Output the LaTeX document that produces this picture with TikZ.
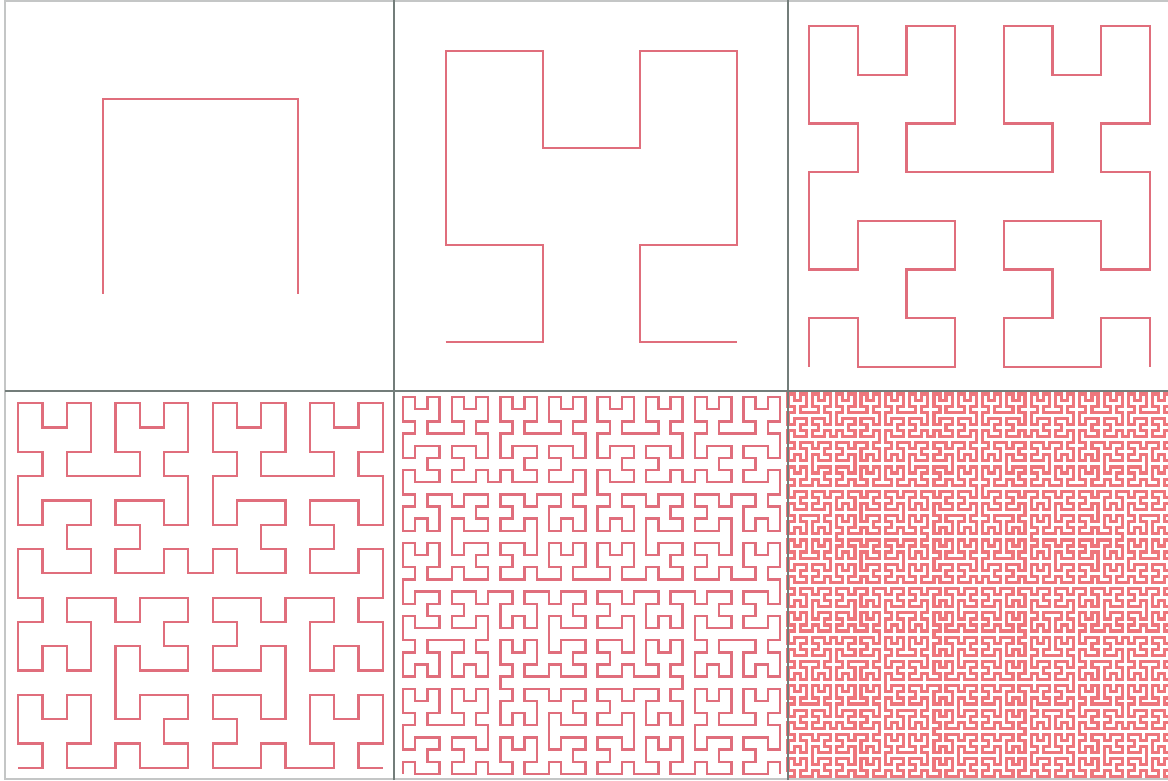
\documentclass[tikz,border=0pt]{standalone}
\usetikzlibrary{lindenmayersystems}
\pgfdeclarelindenmayersystem{Hilbert}{
  \rule{L -> +RF-LFL-FR+}
  \rule{R -> -LF+RFR+FL-}
}
\definecolor{curvecol}{RGB}{224,110,124}
\definecolor{densecol}{RGB}{238,118,124}
\definecolor{dividercol}{RGB}{115,125,122}
\definecolor{framecol}{RGB}{196,198,198}
\begin{document}
\begin{tikzpicture}[x=1pt,y=1pt,
  hil/.style={curvecol, line width=2.2pt, line join=miter},
  hildense/.style={densecol, line width=3.2pt, line join=miter},
  divider/.style={dividercol, line width=1.6pt},
  outerframe/.style={framecol, line width=1.6pt}]
\useasboundingbox (0,0) rectangle (1168,780);
\fill[white] (0,0) rectangle (1168,780);
% row 1
\begin{scope}[shift={(103.25,486.25)}]
\draw[hil, lindenmayer system={Hilbert, axiom=L, order=1, step=194.5pt, angle=90}] lindenmayer system;
\end{scope}
\begin{scope}[shift={(445.625,437.625)}]
\draw[hil, lindenmayer system={Hilbert, axiom=L, order=2, step=97.25pt, angle=90}] lindenmayer system;
\end{scope}
\begin{scope}[shift={(809.3125,413.3125)}]
\draw[hil, lindenmayer system={Hilbert, axiom=L, order=3, step=48.625pt, angle=90}] lindenmayer system;
\end{scope}
% row 2
\begin{scope}[shift={(18.15625,12.15625)}]
\draw[hil, lindenmayer system={Hilbert, axiom=L, order=4, step=24.3125pt, angle=90}] lindenmayer system;
\end{scope}
\begin{scope}[shift={(403.078,6.078)}]
\draw[hil, line width=2.4pt, lindenmayer system={Hilbert, axiom=L, order=5, step=12.15625pt, angle=90}] lindenmayer system;
\end{scope}
\begin{scope}[shift={(788.04,3.04)}]
\draw[hildense, lindenmayer system={Hilbert, axiom=L, order=6, step=6.078125pt, angle=90}] lindenmayer system;
\end{scope}
% frame and dividers
\draw[outerframe] (5,1) rectangle (1180,779);
\draw[divider] (394,0) -- (394,780);
\draw[divider] (788,0) -- (788,780);
\draw[divider] (5,389) -- (1168,389);
\end{tikzpicture}
\end{document}
